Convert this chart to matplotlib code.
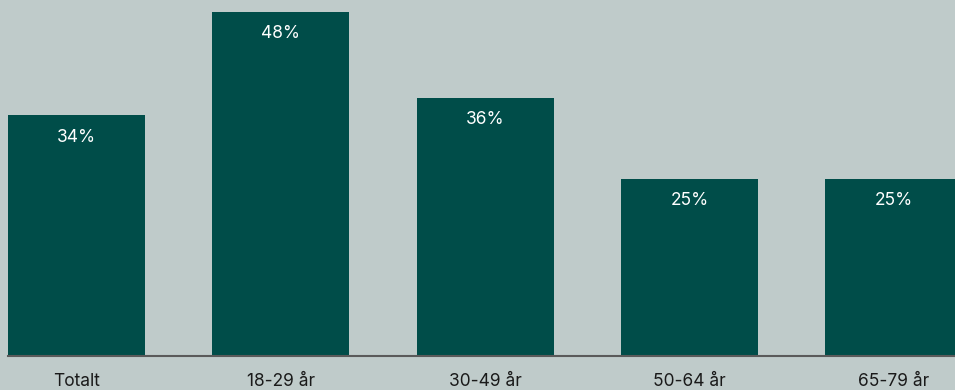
import matplotlib
matplotlib.use("Agg")
import matplotlib.pyplot as plt

categories = ["Totalt", "18-29 år", "30-49 år", "50-64 år", "65-79 år"]
values = [33.6, 48.0, 36.0, 24.7, 24.7]
labels = ["34%", "48%", "36%", "25%", "25%"]

BG = "#bfcbca"
BAR = "#004d49"

plt.rcParams['font.family'] = ['Inter', 'DejaVu Sans']

W, H = 955, 390
fig = plt.figure(figsize=(W/100, H/100), dpi=100, facecolor=BG)
ax = fig.add_axes([8/W, 34/H, 947/W, 356/H])
ax.set_facecolor(BG)

x = list(range(len(categories)))
pitch = 204.3
bw = 137/pitch
ax.bar(x, values, width=bw, color=BAR, zorder=2)
for xi, v, lab in zip(x, values, labels):
    ax.annotate(lab, (xi, v), xytext=(0, -22), textcoords="offset pixels",
                ha="center", va="center", color="white", fontsize=12.5)

ax.set_xlim(-bw/2, -bw/2 + 947/pitch)
ax.set_ylim(0, 356/7.17)
ax.set_xticks(x)
ax.set_xticklabels(categories, fontsize=12.5, color="#1a1a1a")
ax.tick_params(axis="x", length=0, pad=12)
ax.set_yticks([])
for s in ["top", "right", "left"]:
    ax.spines[s].set_visible(False)
ax.spines["bottom"].set_color("#5a5a5a")
ax.spines["bottom"].set_linewidth(1.5)
ax.spines["bottom"].set_zorder(3)

fig.savefig("out.png", dpi=100, facecolor=BG)
